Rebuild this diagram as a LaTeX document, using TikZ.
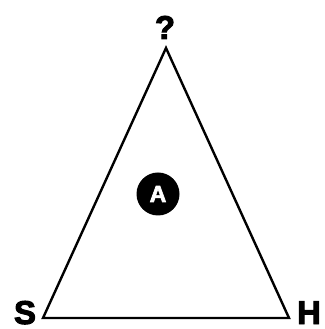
\documentclass[tikz,border=0pt]{standalone}
\usepackage{fontspec}
\setmainfont{Liberation Sans}
\newfontfamily\heavyfont[FakeBold=3]{Liberation Sans Bold}
\begin{document}
\begin{tikzpicture}[x=1pt,y=1pt,
  lbl/.style={inner sep=0pt,text depth=0pt,anchor=base,font=\heavyfont\fontsize{33}{33}\selectfont},
  edge/.style={line width=2.4pt,line join=miter}]
\useasboundingbox (0,0) rectangle (324,329);
\coordinate (top) at (166,281);
\coordinate (bl) at (43,11);
\coordinate (br) at (289,11);
\draw[edge] (top) -- (bl) -- (br) -- cycle;
\node[lbl] (q) at (165,290) {?};
\node[lbl] (s) at (25,5) {S};
\node[lbl] (h) at (309,5) {H};
\node[circle,fill=black,minimum size=43pt,inner sep=0pt,text=white,font=\heavyfont\fontsize{23}{23}\selectfont] (a) at (158,135) {A};
\end{tikzpicture}
\end{document}
